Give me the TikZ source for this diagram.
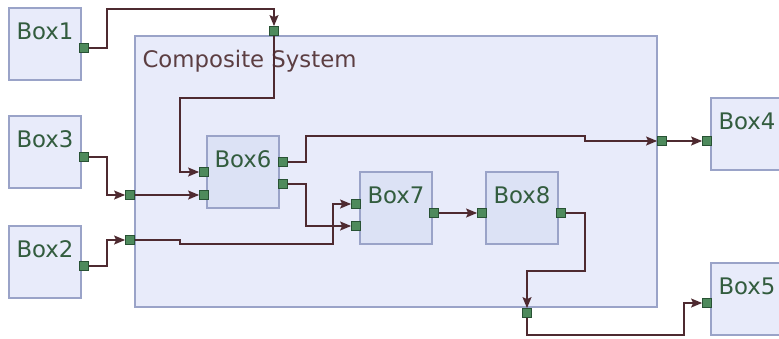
\documentclass[tikz,border=0pt]{standalone}
\usepackage{fontspec}
\setmainfont{DejaVu Sans}
\usepackage{tikz}
\usetikzlibrary{positioning,arrows.meta,calc}
\definecolor{blkfill}{RGB}{232,235,250}
\definecolor{subfill}{RGB}{220,226,245}
\definecolor{blkline}{RGB}{154,163,200}
\definecolor{lblcol}{RGB}{50,92,62}
\definecolor{syscol}{RGB}{92,62,66}
\definecolor{portfill}{RGB}{78,138,92}
\definecolor{portline}{RGB}{40,82,52}
\definecolor{wirecol}{RGB}{78,42,48}
\tikzset{
  blk/.style={draw=blkline,fill=blkfill,line width=1.3pt,minimum size=72pt,inner sep=0pt},
  sub/.style={blk,fill=subfill},
  lbl/.style={anchor=base west,inner sep=0pt,xshift=8pt,yshift=-32pt,
    font=\fontsize{22.8}{26}\selectfont},
  tag/.style={label={[lbl,text=lblcol]north west:#1}},
  port/.style={draw=portline,fill=portfill,line width=0.8pt,minimum size=9pt,inner sep=0pt},
  wire/.style={draw=wirecol,line width=1.3pt},
  into/.style={wire,-{Stealth[length=11pt,width=9pt,inset=2pt]}},
}
\begin{document}
\begin{tikzpicture}[x=1pt,y=-1pt]
  \useasboundingbox (0,0) rectangle (779,338);
  % composite block
  \node[blk,minimum width=522pt,minimum height=271pt,
    label={[lbl,text=syscol]north west:Composite System}] (cs) at (396,171.5) {};
  % outer blocks
  \node[blk,tag=Box1] (b1) at (45,44) {};
  \node[blk,tag=Box3] (b3) at (45,152) {};
  \node[blk,tag=Box2] (b2) at (45,262) {};
  \node[blk,tag=Box4] (b4) at (747,134) {};
  \node[blk,tag=Box5] (b5) at (747,299) {};
  % inner blocks
  \node[sub,tag=Box6] (b6) at (243,172) {};
  \node[sub,tag=Box7] (b7) at (396,208) {};
  \node[sub,tag=Box8] (b8) at (522,208) {};
  % ports
  \node[port] (o1) at (84,48) {};
  \node[port] (o3) at (84,157) {};
  \node[port] (o2) at (84,266) {};
  \node[port] (ctop) at (274,31) {};
  \node[port] (cin1) at (130,195) {};
  \node[port] (cin2) at (130,240) {};
  \node[port] (cout) at (662,141) {};
  \node[port] (cbot) at (527,313) {};
  \node[port] (i61) at (204,172) {};
  \node[port] (i62) at (204,195) {};
  \node[port] (o61) at (283,162) {};
  \node[port] (o62) at (283,184) {};
  \node[port] (i71) at (356,204) {};
  \node[port] (i72) at (356,226) {};
  \node[port] (o7) at (434,213) {};
  \node[port] (i8) at (482,213) {};
  \node[port] (o8) at (561,213) {};
  \node[port] (i4) at (707,141) {};
  \node[port] (i5) at (707,303) {};
  % wires
  \draw[into] (o1.east) -| (107,9) -| (ctop.north);
  \draw[into] (ctop.south) |- (180,98) |- (i61.west);
  \draw[into] (o3.east) -| (107,195) -- (cin1.west);
  \draw[into] (cin1.east) -- (i62.west);
  \draw[into] (o2.east) -| (107,240) -- (cin2.west);
  \draw[into] (cin2.east) -- (180,240) -- (180,244) -| (333,204) -- (i71.west);
  \draw[into] (o62.east) -| (306,226) -- (i72.west);
  \draw[into] (o61.east) -| (306,136) -- (585,136) -- (585,141) -- (cout.west);
  \draw[into] (cout.east) -- (i4.west);
  \draw[into] (o7.east) -- (i8.west);
  \draw[into] (o8.east) -| (585,271) -| (cbot.north);
  \draw[into] (cbot.south) |- (684,335) |- (i5.west);
\end{tikzpicture}
\end{document}
